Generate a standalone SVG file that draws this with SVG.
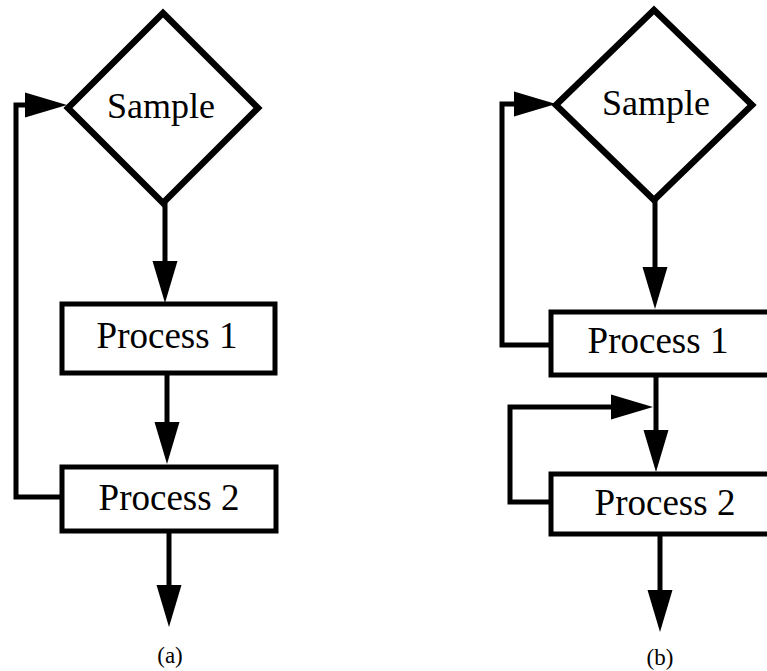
<svg xmlns="http://www.w3.org/2000/svg" width="767" height="671" viewBox="0 0 767 671">
  <defs>
    <marker id="head" markerUnits="userSpaceOnUse" orient="auto" refX="0" refY="0" overflow="visible">
      <path d="M-4,-12.5 L38,0 L-4,12.5 Z" fill="#000"/>
    </marker>
    <style>
      .shape { fill: #fff; stroke: #000; stroke-width: 6.5; stroke-linejoin: miter; }
      .box { fill: #fff; stroke: #000; stroke-width: 5; }
      .wire { fill: none; stroke: #000; stroke-width: 5; stroke-linejoin: miter; marker-end: url(#head); }
      .label { font-family: "Liberation Serif", "Times New Roman", serif; font-size: 36px; fill: #000; text-anchor: middle; }
      .label.proc { font-size: 37px; }
      .caption { font-family: "Liberation Serif", "Times New Roman", serif; font-size: 23px; fill: #000; text-anchor: middle; }
    </style>
  </defs>
  <rect width="767" height="671" fill="#fff"/>

  <!-- (a): feedback from Process 2 back to Sample -->
  <g id="connectors-a">
    <path class="wire" d="M165,203 V265"/>
    <path class="wire" d="M167,373 V426"/>
    <path class="wire" d="M169,531 V589"/>
    <path class="wire" d="M62,497 H16 V105 H29"/>
  </g>
  <g id="a-sample">
    <polygon class="shape" points="163,13 258,108 163,203 68,108"/>
    <text class="label" x="161" y="118">Sample</text>
  </g>
  <g id="a-process1">
    <rect class="box" x="62" y="304" width="213" height="69"/>
    <text class="label proc" x="167" y="348">Process 1</text>
  </g>
  <g id="a-process2">
    <rect class="box" x="62" y="467" width="214" height="64"/>
    <text class="label proc" x="169" y="510">Process 2</text>
  </g>
  <text class="caption" x="170" y="663">(a)</text>

  <!-- (b): feedback from Process 1 to Sample, and Process 2 to its own input -->
  <g id="connectors-b">
    <path class="wire" d="M655,200 V271"/>
    <path class="wire" d="M656,375 V434"/>
    <path class="wire" d="M660,534 V594"/>
    <path class="wire" d="M551,345 H502 V104 H518"/>
    <path class="wire" d="M551,502 H510 V407 H615"/>
  </g>
  <g id="b-sample">
    <polygon class="shape" points="654,10 752,105 654,200 556,105"/>
    <text class="label" x="656" y="115">Sample</text>
  </g>
  <g id="b-process1">
    <rect class="box" x="551" y="312" width="240" height="63"/>
    <text class="label proc" x="658" y="353">Process 1</text>
  </g>
  <g id="b-process2">
    <rect class="box" x="551" y="474" width="240" height="60"/>
    <text class="label proc" x="665" y="515">Process 2</text>
  </g>
  <text class="caption" x="660" y="665">(b)</text>
</svg>
